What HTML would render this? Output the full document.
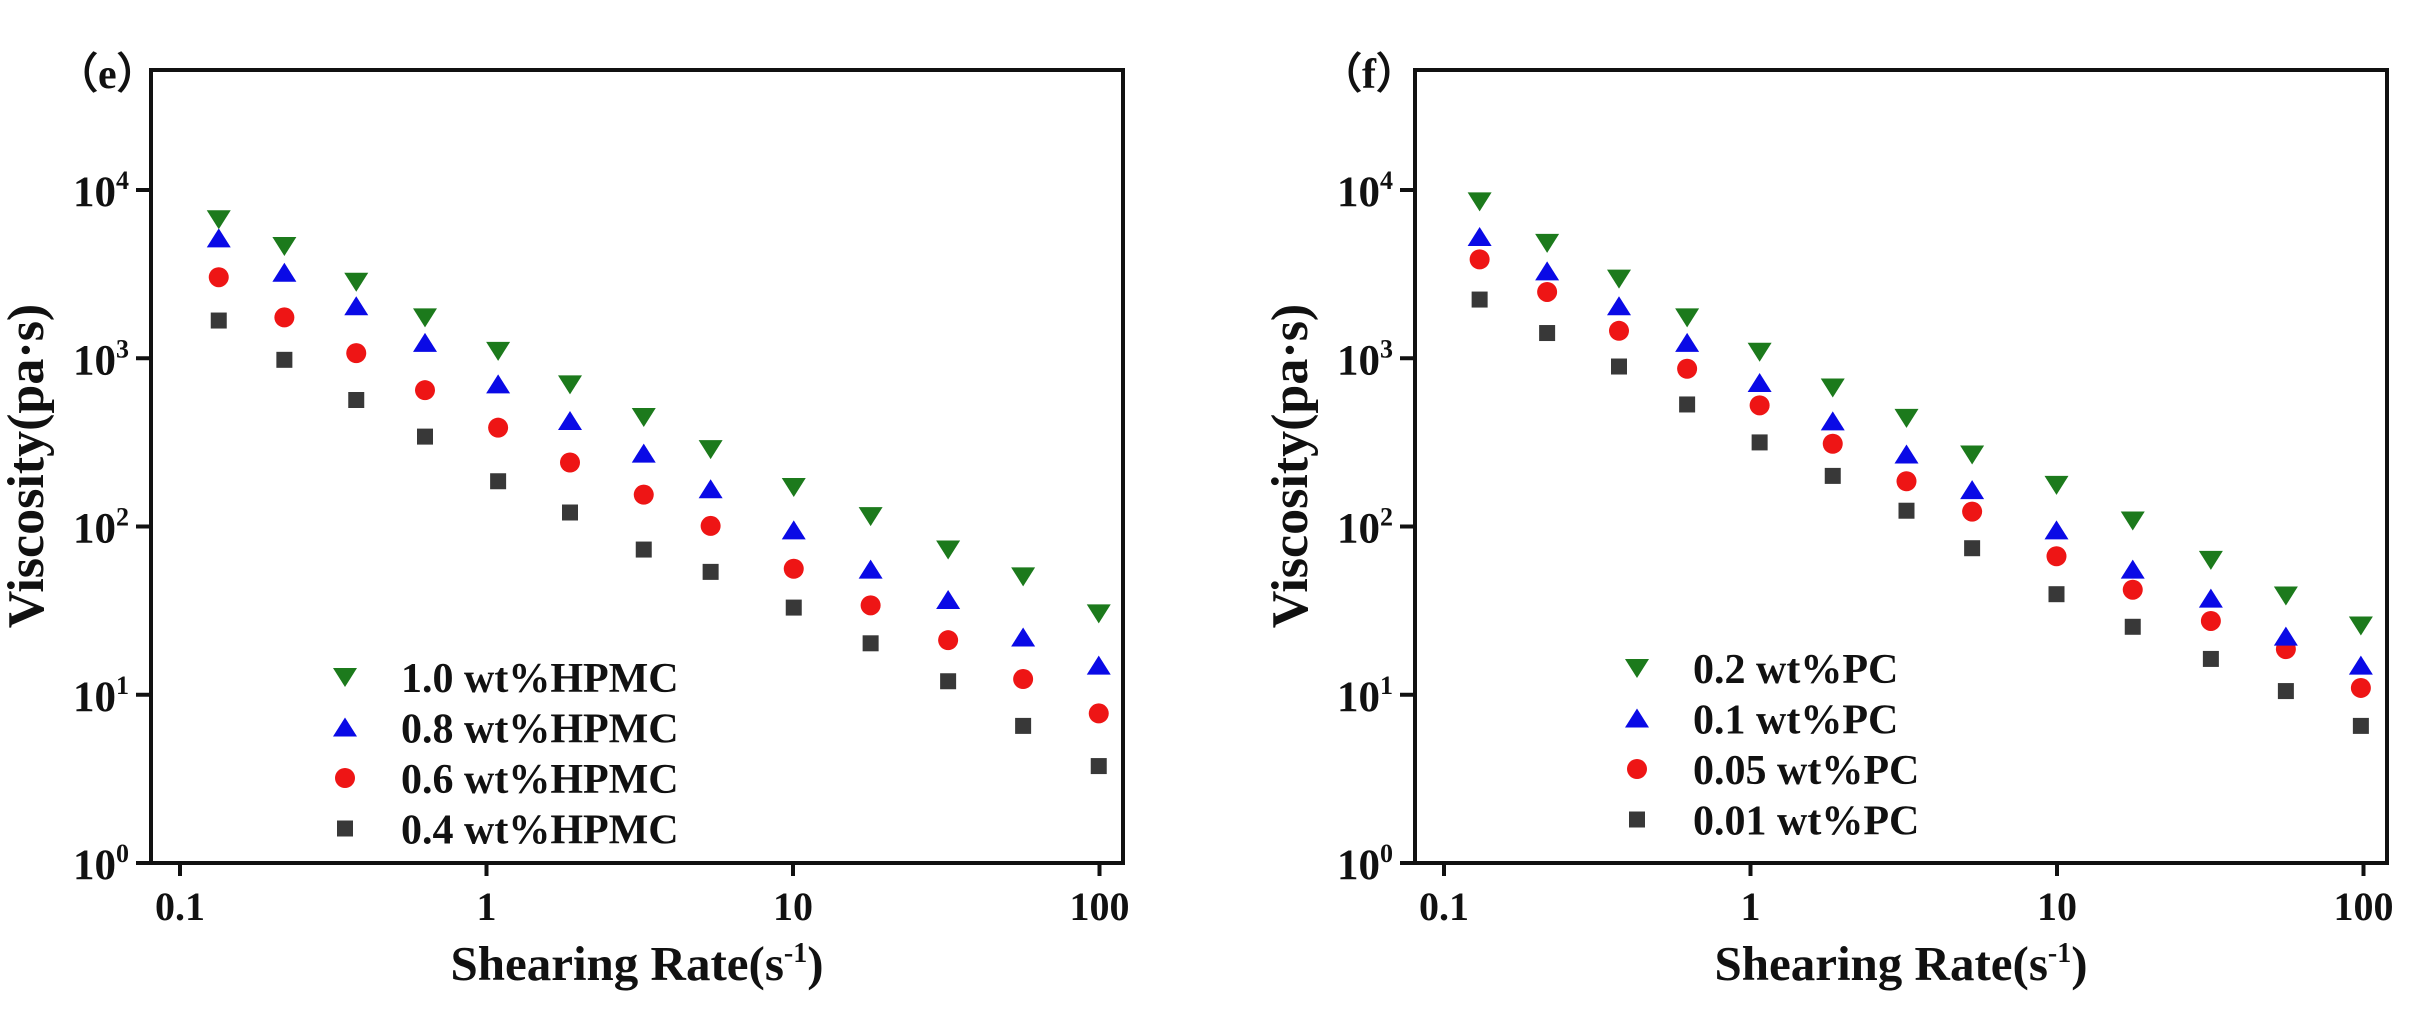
<!DOCTYPE html>
<html><head><meta charset="utf-8"><style>
html,body{margin:0;padding:0;background:#fff;}
svg{display:block;}
text{font-family:"Liberation Serif",serif;font-weight:bold;fill:#111;}
</style></head><body>
<svg id="s" width="2411" height="1014" viewBox="0 0 2411 1014" xmlns="http://www.w3.org/2000/svg">
<g id="g"></g>
</svg>
<script>
const g=document.getElementById('g');
let h='';
const xs=[105,213,328,437,553,670,788,893,1028,1150,1275,1395,1515];
const xsL=[110,215,330,440,557,672,790,897,1030,1153,1277,1397,1518];
const L={green:[155,215,295,375,450,525,598,670,755,820,895,955,1038],
blue:[198,275,350,432,525,607,680,760,852,940,1008,1092,1155],
red:[285,375,455,538,622,700,772,842,938,1020,1098,1185,1262],
black:[382,470,560,642,742,812,895,945,1025,1105,1190,1290,1380]};
const R={green:[115,208,288,375,452,532,600,682,750,830,918,998,1065],
blue:[195,272,350,432,522,608,682,762,852,940,1005,1090,1155],
red:[245,318,405,490,572,658,742,810,910,985,1055,1118,1205],
black:[335,410,485,570,655,730,808,892,995,1068,1140,1212,1290]};
function mk(t,x,y){
 if(t=='green')return `<polygon points="${x-12},${y-9} ${x+12},${y-9} ${x},${y+10}" fill="#1c7a1c"/>`;
 if(t=='blue')return `<polygon points="${x-12},${y+9} ${x+12},${y+9} ${x},${y-10}" fill="#0a0ae6"/>`;
 if(t=='red')return `<ellipse cx="${x}" cy="${y}" rx="10" ry="10" fill="#ee1515"/>`;
 return `<rect x="${x-8}" y="${y-8}" width="16" height="16" fill="#383838"/>`;
}
function panel(ox,label,data,xsz,leg,lx,ty){
 const left=ox, right=ox+972, top=70, bot=863;
 h+=`<rect x="${left}" y="${top}" width="${right-left}" height="${bot-top}" fill="none" stroke="#111" stroke-width="4"/>`;
 for(let i=0;i<=4;i++){const y=863-i*168.25;
  h+=`<line x1="${left-15}" y1="${y}" x2="${left}" y2="${y}" stroke="#111" stroke-width="4"/>`;
  h+=`<text x="${left-22}" y="${y+16}" font-size="43" text-anchor="end">10<tspan dy="-17" font-size="26">${i}</tspan></text>`;}
 const xl=['0.1','1','10','100'];
 for(let i=0;i<4;i++){const x=left+29+i*306.5;
  h+=`<line x1="${x}" y1="${bot}" x2="${x}" y2="${bot+13}" stroke="#111" stroke-width="4"/>`;
  h+=`<text x="${x}" y="${bot+57}" font-size="40" text-anchor="middle">${xl[i]}</text>`;}
 h+=`<text x="${(left+right)/2}" y="${980}" font-size="49" text-anchor="middle">Shearing Rate(s<tspan dy="-18" font-size="28">-1</tspan><tspan dy="18">)</tspan></text>`;
 h+=`<text transform="translate(${left-108},${466}) rotate(-90)" font-size="52" text-anchor="middle">Viscosity(pa·s)</text>`;
 h+=`<text x="${left-95}" y="${88}" font-size="42">（${label}）</text>`;
 for(const k of ['black','red','blue','green']){
  data[k].forEach((v,i)=>{h+=mk(k,ox-1+xsz[i]/1.6,150+v/2.24);});
 }
 const ks=['green','blue','red','black'];
 ks.forEach((k,i)=>{const y=ty+i*50.5;
  h+=mk(k,lx,y);
  h+=`<text x="${lx+56}" y="${y+15}" font-size="42">${leg[i]}</text>`;});
}
panel(151,'e',L,xsL,['1.0 wt%HPMC','0.8 wt%HPMC','0.6 wt%HPMC','0.4 wt%HPMC'],345,677);
panel(1415,'f',R,xs,['0.2 wt%PC','0.1 wt%PC','0.05 wt%PC','0.01 wt%PC'],1637,668);
g.innerHTML=h;
</script>
</body></html>
